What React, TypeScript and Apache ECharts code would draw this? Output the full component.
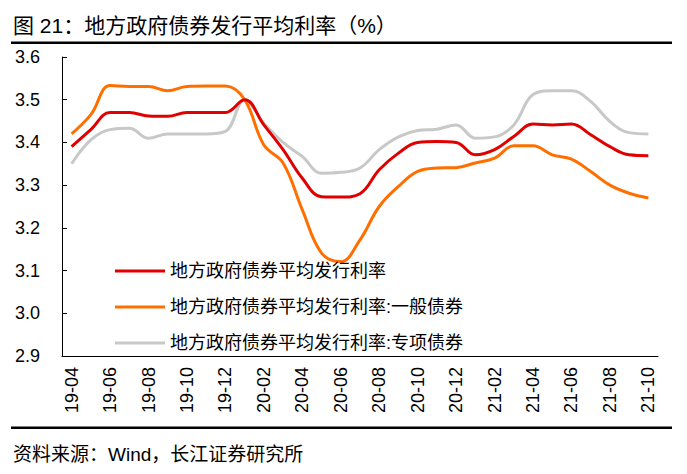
import React, { useEffect, useRef } from "react";
import * as echarts from "echarts";

const months = [
  "19-04", "19-05", "19-06", "19-07", "19-08", "19-09", "19-10", "19-11", "19-12",
  "20-01", "20-02", "20-03", "20-04", "20-05", "20-06", "20-07", "20-08", "20-09",
  "20-10", "20-11", "20-12", "21-01", "21-02", "21-03", "21-04", "21-05", "21-06",
  "21-07", "21-08", "21-09", "21-10",
];

const avgRate = [
  3.39, 3.43, 3.47, 3.47, 3.462, 3.461, 3.47, 3.47, 3.47,
  3.50, 3.441, 3.383, 3.316, 3.273, 3.272, 3.28, 3.336, 3.375,
  3.40, 3.402, 3.40, 3.371, 3.383, 3.414, 3.443, 3.441, 3.443,
  3.418, 3.39, 3.371, 3.369,
];

const generalRate = [
  3.42, 3.465, 3.533, 3.531, 3.531, 3.521, 3.531, 3.532, 3.532,
  3.50, 3.394, 3.352, 3.242, 3.141, 3.121, 3.172, 3.25, 3.297,
  3.332, 3.34, 3.341, 3.352, 3.363, 3.392, 3.392, 3.371, 3.361,
  3.332, 3.30, 3.281, 3.27,
];

const specialRate = [
  3.35, 3.406, 3.43, 3.433, 3.41, 3.42, 3.42, 3.42, 3.426,
  3.50, 3.445, 3.40, 3.367, 3.328, 3.33, 3.34, 3.383, 3.413,
  3.428, 3.431, 3.441, 3.41, 3.413, 3.441, 3.512, 3.521, 3.521,
  3.496, 3.449, 3.423, 3.42,
];

const seriesNames = [
  "地方政府债券平均发行利率",
  "地方政府债券平均发行利率:一般债券",
  "地方政府债券平均发行利率:专项债券",
];

const titleText = "图 21：地方政府债券发行平均利率（%）";
const sourceText = "资料来源：Wind，长江证券研究所";

const FONT = '"Liberation Sans", Arial, "Noto Sans CJK SC", sans-serif';

export default function App() {
  const ref = useRef<HTMLDivElement>(null);

  useEffect(() => {
    if (!ref.current) return;
    const chart = echarts.init(ref.current, undefined, { renderer: "svg" });
    const colors = ["#E00000", "#FF6F00", "#C8C8C8"];
    const data = [avgRate, generalRate, specialRate];
    chart.setOption({
      animation: false,
      textStyle: { fontFamily: FONT },
      grid: { left: 62, right: 29, top: 57, bottom: 118, containLabel: false },
      legend: {
        orient: "vertical",
        left: 110,
        top: 256,
        icon: "rect",
        itemWidth: 50,
        itemHeight: 3,
        itemGap: 16,
        textStyle: { fontSize: 18, color: "#000", fontFamily: FONT, lineHeight: 20 },
        data: seriesNames,
      },
      xAxis: {
        type: "category",
        data: months,
        boundaryGap: true,
        axisLine: { lineStyle: { color: "#000", width: 1 } },
        axisTick: { inside: true, length: 5, interval: 1, lineStyle: { color: "#000" } },
        axisLabel: {
          interval: 1,
          rotate: 90,
          margin: 11,
          fontSize: 18,
          color: "#000",
          fontFamily: FONT,
        },
        splitLine: { show: false },
      },
      yAxis: {
        type: "value",
        min: 2.9,
        max: 3.6,
        interval: 0.1,
        axisLine: { show: true, lineStyle: { color: "#000", width: 1 } },
        axisTick: { show: true, inside: true, length: 5, lineStyle: { color: "#000" } },
        axisLabel: {
          margin: 22,
          fontSize: 18,
          color: "#000",
          fontFamily: FONT,
          formatter: (v: number) => v.toFixed(1),
        },
        splitLine: { show: false },
      },
      series: seriesNames.map((name, i) => ({
        name,
        type: "line",
        data: data[i],
        smooth: 0.4,
        showSymbol: false,
        symbol: "none",
        lineStyle: { color: colors[i], width: 3 },
        itemStyle: { color: colors[i] },
        z: 3 - i,
      })),
      graphic: [
        {
          type: "text",
          left: 13,
          top: 15,
          style: { text: titleText, font: `21px ${FONT}`, fill: "#000" },
        },
        {
          type: "line",
          shape: { x1: 11, y1: 42.7, x2: 672, y2: 42.7 },
          style: { stroke: "#000", lineWidth: 2.5 },
        },
        {
          type: "line",
          shape: { x1: 11, y1: 427.7, x2: 672, y2: 427.7 },
          style: { stroke: "#000", lineWidth: 2.5 },
        },
        {
          type: "text",
          left: 13,
          top: 445,
          style: { text: sourceText, font: `19px ${FONT}`, fill: "#000" },
        },
      ],
    });
    return () => chart.dispose();
  }, []);

  return (
    <div
      ref={ref}
      style={{ position: "fixed", left: 0, top: 0, width: 687, height: 474, background: "#fff" }}
    />
  );
}
